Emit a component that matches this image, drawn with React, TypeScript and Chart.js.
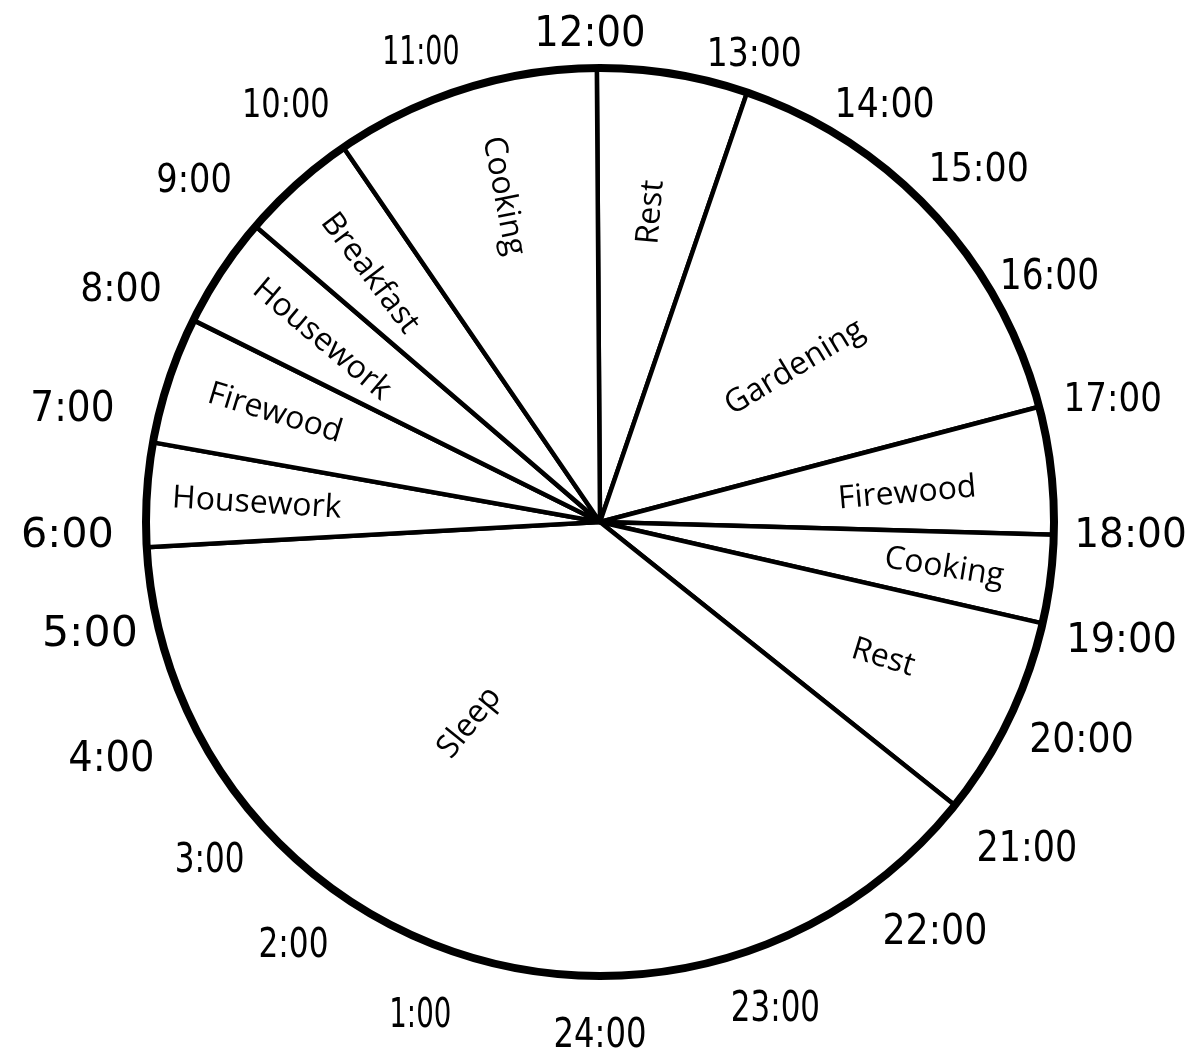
import React, { useEffect, useRef } from "react";
import { Chart, registerables } from "chart.js";

Chart.register(...registerables);

// ---------- data ----------
// Slices clockwise from 12:00 (top)
const activities = [
  "Rest",
  "Gardening",
  "Firewood",
  "Cooking",
  "Rest",
  "Sleep",
  "Housework",
  "Firewood",
  "Housework",
  "Breakfast",
  "Cooking",
];
// Angular size of each slice as drawn (degrees)
const sliceDegrees = [19.3, 56.4, 16.3, 11.3, 25.7, 138.2, 13.3, 16.3, 14.25, 14.95, 34.0];

// Hour labels around the dial, clockwise from the top
const hourLabels = [
  "12:00", "13:00", "14:00", "15:00", "16:00", "17:00", "18:00", "19:00",
  "20:00", "21:00", "22:00", "23:00", "24:00", "1:00", "2:00", "3:00",
  "4:00", "5:00", "6:00", "7:00", "8:00", "9:00", "10:00", "11:00",
];

// ---------- layout / style ----------
const W = 1193;
const H = 1055;
const CX = 600;
const CY = 522;
const RADIUS = 454;
const START_ROTATION = -0.4;

// ink boxes of the hour labels in page pixels: [left, top, right, bottom]
const hourBoxes: number[][] = [
  [538, 15, 643, 47],
  [710, 37, 800, 67],
  [838, 87, 933, 118],
  [932, 152, 1027, 182],
  [1003, 258, 1097, 290],
  [1067, 382, 1160, 412],
  [1078, 517, 1185, 548],
  [1070, 622, 1175, 653],
  [1031, 722, 1132, 753],
  [979, 830, 1075, 862],
  [885, 913, 985, 945],
  [733, 990, 818, 1022],
  [555, 1017, 645, 1048],
  [392, 997, 450, 1028],
  [260, 927, 327, 958],
  [177, 842, 243, 873],
  [70, 740, 152, 772],
  [45, 615, 135, 647],
  [23, 517, 112, 548],
  [33, 390, 112, 422],
  [82, 272, 160, 302],
  [158, 163, 230, 193],
  [245, 88, 328, 118],
  [385, 35, 458, 65],
];

// slice label placement: centre (page px) and rotation (deg, clockwise)
const sliceLabelLayout = [
  { x: 648, y: 212, rot: -85 },
  { x: 795, y: 368, rot: -31 },
  { x: 907, y: 490, rot: -5 },
  { x: 944, y: 568, rot: 9 },
  { x: 884, y: 655, rot: 17 },
  { x: 470, y: 723, rot: -51 },
  { x: 257, y: 500, rot: 3.5 },
  { x: 276, y: 410, rot: 17 },
  { x: 324, y: 337, rot: 40 },
  { x: 373, y: 271, rot: 53 },
  { x: 503, y: 196, rot: 79 },
];

const SLICE_FONT = '32px "Open Sans", "Noto Sans", sans-serif';
const HOUR_FAMILY = '"DejaVu Sans", sans-serif';

const decorPlugin = {
  id: "dialDecor",
  afterDatasetsDraw(chart: any) {
    const ctx: CanvasRenderingContext2D = chart.ctx;
    const arc: any = chart.getDatasetMeta(0).data[0];
    if (!arc) return;
    const cx = arc.x;
    const cy = arc.y;
    const r = arc.outerRadius;
    ctx.save();

    // thick outer ring
    ctx.beginPath();
    ctx.arc(cx, cy, r, 0, Math.PI * 2);
    ctx.lineWidth = 8;
    ctx.strokeStyle = "#000";
    ctx.stroke();

    ctx.fillStyle = "#000";

    // slice labels
    ctx.font = SLICE_FONT;
    ctx.textAlign = "center";
    ctx.textBaseline = "alphabetic";
    activities.forEach((t, i) => {
      const L = sliceLabelLayout[i];
      const m = ctx.measureText(t);
      const asc = m.actualBoundingBoxAscent;
      const desc = m.actualBoundingBoxDescent;
      ctx.save();
      ctx.translate(cx + (L.x - CX), cy + (L.y - CY));
      ctx.rotate((L.rot * Math.PI) / 180);
      ctx.fillText(t, 0, (asc - desc) / 2);
      ctx.restore();
    });

    // hour labels
    ctx.textAlign = "left";
    ctx.textBaseline = "alphabetic";
    hourLabels.forEach((t, i) => {
      const [l, tp, rt, bt] = hourBoxes[i];
      ctx.font = `100px ${HOUR_FAMILY}`;
      const m0 = ctx.measureText(t);
      const inkH0 = m0.actualBoundingBoxAscent + m0.actualBoundingBoxDescent;
      const size = (100 * (bt - tp)) / inkH0;
      ctx.font = `${size}px ${HOUR_FAMILY}`;
      const m = ctx.measureText(t);
      const inkW = m.actualBoundingBoxLeft + m.actualBoundingBoxRight;
      const sx = (rt - l) / inkW;
      ctx.save();
      ctx.translate(cx + (l - CX), cy + (bt - CY) - m.actualBoundingBoxDescent);
      ctx.scale(sx, 1);
      ctx.fillText(t, m.actualBoundingBoxLeft, 0);
      ctx.restore();
    });

    ctx.restore();
  },
};

export default function App() {
  const canvasRef = useRef<HTMLCanvasElement | null>(null);

  useEffect(() => {
    const canvas = canvasRef.current;
    if (!canvas) return;
    const half = 460;
    const chart = new Chart(canvas, {
      type: "pie",
      data: {
        labels: activities,
        datasets: [
          {
            data: sliceDegrees,
            backgroundColor: "#ffffff",
            borderColor: "#000000",
            borderWidth: 4.5,
            borderAlign: "center",
            borderJoinStyle: "round",
            hoverOffset: 0,
            offset: 0,
          } as any,
        ],
      },
      options: {
        responsive: false,
        animation: false,
        events: [],
        rotation: START_ROTATION,
        radius: RADIUS,
        layout: {
          padding: {
            left: CX - half,
            right: W - CX - half,
            top: CY - half,
            bottom: H - CY - half,
          },
        },
        plugins: {
          legend: { display: false },
          tooltip: { enabled: false },
        },
      } as any,
      plugins: [decorPlugin],
    });
    return () => chart.destroy();
  }, []);

  return (
    <div style={{ position: "absolute", left: 0, top: 0, width: W, height: H, background: "#fff" }}>
      <canvas ref={canvasRef} width={W} height={H} style={{ display: "block", width: W, height: H }} />
    </div>
  );
}
